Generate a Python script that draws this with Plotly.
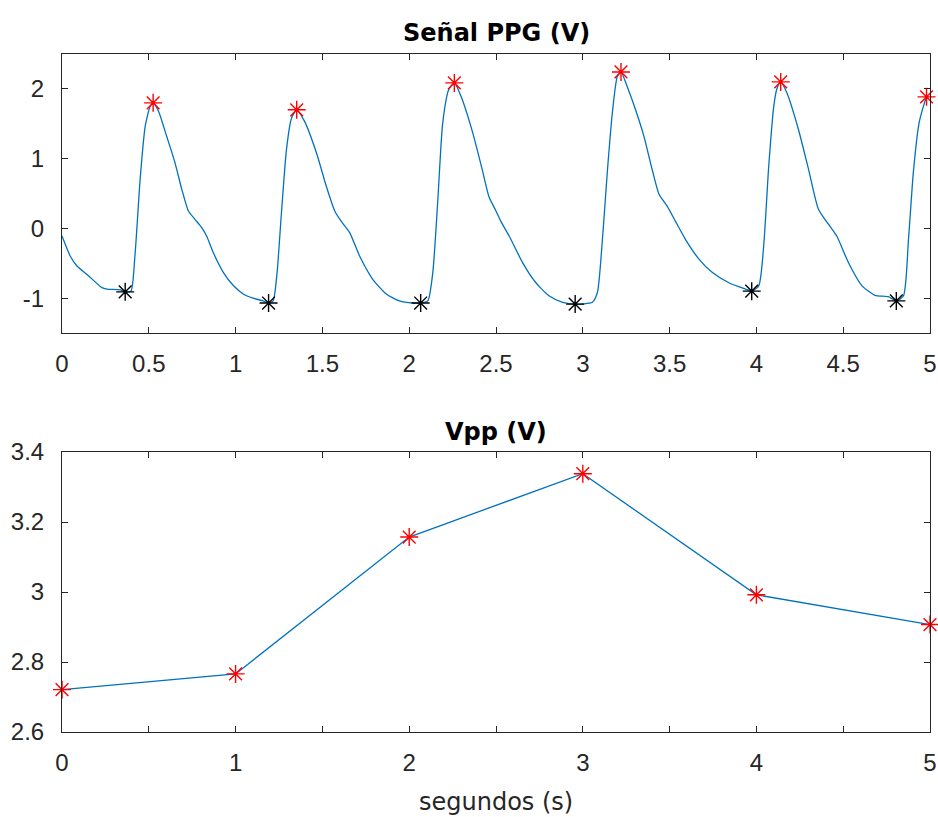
import plotly.graph_objects as go

# PPG signal trace (seconds, volts)
ppg_t = [0.0, 0.048, 0.086, 0.144, 0.23, 0.259, 0.335, 0.364, 0.397, 0.42, 0.45, 0.479, 0.508, 0.525,
         0.556, 0.603, 0.651, 0.69, 0.728, 0.766, 0.805, 0.833, 0.872, 0.929, 0.987, 1.044, 1.10, 1.159,
         1.19, 1.216, 1.239, 1.264, 1.293, 1.322, 1.352, 1.398, 1.466, 1.523, 1.571, 1.609, 1.657, 1.715,
         1.79, 1.868, 1.944, 2.02, 2.066, 2.107, 2.136, 2.165, 2.193, 2.228, 2.26, 2.299, 2.366, 2.42,
         2.46, 2.50, 2.528, 2.576, 2.653, 2.73, 2.807, 2.884, 2.956, 3.055, 3.084, 3.113, 3.141, 3.17,
         3.199, 3.22, 3.256, 3.304, 3.352, 3.40, 3.439, 3.486, 3.534, 3.592, 3.669, 3.745, 3.841, 3.937,
         3.973, 4.014, 4.042, 4.071, 4.10, 4.119, 4.14, 4.176, 4.243, 4.301, 4.358, 4.415, 4.463, 4.53,
         4.607, 4.683, 4.76, 4.806, 4.847, 4.876, 4.904, 4.937, 4.968, 4.98]
ppg_v = [-0.11, -0.40, -0.54, -0.66, -0.85, -0.87, -0.88, -0.91, -0.90, -0.40, 0.70, 1.46, 1.75, 1.80,
         1.68, 1.32, 0.94, 0.56, 0.25, 0.13, 0.01, -0.11, -0.35, -0.63, -0.82, -0.94, -1.00, -1.04,
         -1.07, -1.04, -0.63, 0.22, 1.13, 1.58, 1.70, 1.53, 1.08, 0.60, 0.25, 0.10, -0.06, -0.40,
         -0.73, -0.94, -1.04, -1.07, -1.07, -1.04, -0.63, 0.41, 1.51, 1.99, 2.086, 1.89, 1.37, 0.85,
         0.45, 0.25, 0.10, -0.11, -0.49, -0.78, -0.97, -1.06, -1.086, -1.06, -0.92, -0.16, 0.80, 1.65,
         2.18, 2.243, 2.03, 1.70, 1.32, 0.84, 0.49, 0.32, 0.10, -0.16, -0.44, -0.63, -0.78, -0.87,
         -0.90, -0.82, -0.25, 0.89, 1.75, 2.01, 2.10, 1.94, 1.41, 0.84, 0.27, 0.06, -0.11, -0.49,
         -0.82, -0.96, -0.98, -1.04, -0.97, -0.16, 0.80, 1.51, 1.80, 1.886]

peak_t = [0.525, 1.352, 2.26, 3.22, 4.14, 4.98]
peak_v = [1.80, 1.70, 2.086, 2.243, 2.10, 1.886]
valley_t = [0.364, 1.19, 2.066, 2.956, 3.973, 4.806]
valley_v = [-0.91, -1.07, -1.07, -1.086, -0.90, -1.04]

vpp_t = [0, 1, 2, 3, 4, 5]
vpp_v = [2.721, 2.766, 3.157, 3.338, 2.992, 2.907]

top_xticks = [0, 0.5, 1, 1.5, 2, 2.5, 3, 3.5, 4, 4.5, 5]
top_xlabels = ["0", "0.5", "1", "1.5", "2", "2.5", "3", "3.5", "4", "4.5", "5"]
bot_xlabels = ["0", "", "1", "", "2", "", "3", "", "4", "", "5"]
top_yticks = [-1, 0, 1, 2]
top_ylabels = ["-1", "0", "1", "2"]
bot_yticks = [2.6, 2.8, 3.0, 3.2, 3.4]
bot_ylabels = ["2.6", "2.8", "3", "3.2", "3.4"]

BLUE = "#0072BD"
AX = "#262626"
TICKFONT = "Liberation Sans, Arial, Helvetica, sans-serif"
TITLEFONT = "DejaVu Sans, Liberation Sans, Arial, sans-serif"

W, H = 938, 817

fig = go.Figure()
fig.add_trace(go.Scatter(x=ppg_t, y=ppg_v, mode="lines",
                         line=dict(color=BLUE, width=1.3, shape="spline", smoothing=0.6),
                         xaxis="x", yaxis="y", hoverinfo="skip"))
star_red = dict(symbol="asterisk-open", size=15, color="red", line=dict(color="red", width=1.4))
star_blk = dict(symbol="asterisk-open", size=15, color="black", line=dict(color="black", width=1.4))
fig.add_trace(go.Scatter(x=peak_t, y=peak_v, mode="markers", marker=star_red, xaxis="x", yaxis="y",
                         cliponaxis=False))
fig.add_trace(go.Scatter(x=valley_t, y=valley_v, mode="markers", marker=star_blk, xaxis="x", yaxis="y",
                         cliponaxis=False))
fig.add_trace(go.Scatter(x=vpp_t, y=vpp_v, mode="lines+markers", line=dict(color=BLUE, width=1.3),
                         marker=star_red, xaxis="x2", yaxis="y2", cliponaxis=False))


def dom(top_px, bot_px):
    return [1 - bot_px / H, 1 - top_px / H]


def ypos(px):
    return 1 - px / H


axis_common = dict(showline=True, linecolor=AX, linewidth=1, mirror="ticks", ticks="inside", ticklen=6,
                   tickcolor=AX, tickwidth=1, showgrid=False, zeroline=False, automargin=False,
                   tickfont=dict(family=TICKFONT, size=24, color=AX))

fig.update_layout(
    width=W, height=H,
    margin=dict(l=62, r=8, t=0, b=0, autoexpand=False),
    paper_bgcolor="white", plot_bgcolor="white",
    showlegend=False,
    xaxis=dict(domain=[0, 1], range=[0, 5], tickvals=top_xticks, ticktext=top_xlabels, anchor="y",
               ticklabelstandoff=9, **axis_common),
    yaxis=dict(domain=dom(54, 333), range=[-1.5, 2.5], tickvals=top_yticks, ticktext=top_ylabels,
               anchor="x", ticklabelstandoff=12, **axis_common),
    xaxis2=dict(domain=[0, 1], range=[0, 5], tickvals=top_xticks, ticktext=bot_xlabels, anchor="y2",
                ticklabelstandoff=9, **axis_common),
    yaxis2=dict(domain=dom(452, 732), range=[2.6, 3.4], tickvals=bot_yticks, ticktext=bot_ylabels,
                anchor="x2", ticklabelstandoff=12, **axis_common),
    annotations=[
        dict(text="<b>Señal PPG (V)</b>", xref="paper", yref="paper", x=0.5, y=ypos(33), xanchor="center",
             yanchor="middle", showarrow=False, font=dict(family=TITLEFONT, size=24, color="black")),
        dict(text="<b>Vpp (V)</b>", xref="paper", yref="paper", x=0.5, y=ypos(432), xanchor="center",
             yanchor="middle", showarrow=False, font=dict(family=TITLEFONT, size=24, color="black")),
        dict(text="segundos (s)", xref="paper", yref="paper", x=0.5, y=ypos(802), xanchor="center",
             yanchor="middle", showarrow=False, font=dict(family=TITLEFONT, size=24, color=AX)),
    ],
)

fig.write_html("out.html", config={"displayModeBar": False},
               post_script="document.body.style.margin='0';document.body.style.overflow='hidden';")
